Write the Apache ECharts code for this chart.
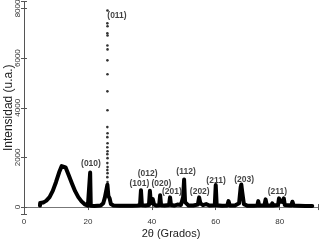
<!DOCTYPE html>
<html lang="es">
<head>
    <meta charset="UTF-8">
    <title>Difractograma</title>
    <script src="https://cdn.jsdelivr.net/npm/echarts@6.0.0/dist/echarts.min.js"></script>
    <style>
        html, body { margin: 0; padding: 0; background: #fff; }
        #chart { width: 321px; height: 242px; }
    </style>
</head>
<body>
<div id="chart"></div>
<script>
    // perfil de difraccion (2theta, intensidad)
    var twoTheta = [5.0, 5.05, 6.0, 7.0, 8.0, 9.0, 10.0, 11.0, 11.8, 12.3, 13.0, 14.0, 15.0, 16.0, 17.0, 18.0, 19.0, 20.0,
        20.5, 20.7, 20.9, 22.0, 23.0, 24.0, 24.8, 25.3, 25.7, 26.1, 26.4, 26.8, 27.2, 28.0, 30.0, 32.0, 34.0,
        35.5, 36.3, 36.6, 36.9, 38.0, 39.1, 39.4, 39.7, 40.3, 40.7, 41.5, 42.3, 42.6, 42.9, 44.0, 45.4, 45.7, 46.0,
        47.0, 48.0, 49.1, 49.8, 50.1, 50.4, 51.5, 53.0, 54.4, 54.8, 55.2, 56.0, 57.0, 58.0, 59.7, 60.0, 60.3,
        62.0, 63.6, 64.0, 64.4, 66.0, 67.3, 67.8, 68.0, 68.3, 68.8, 70.0, 72.0, 73.0, 73.3, 73.6, 75.2, 75.6, 76.0,
        77.4, 77.7, 78.0, 79.5, 79.8, 80.3, 81.0, 81.3, 81.6, 83.6, 84.0, 84.4, 86.0, 88.0, 90.2];
    var intensity = [60, 160, 180, 260, 400, 650, 1000, 1400, 1650, 1720, 1600, 1280, 950, 640, 400, 230, 110, 60,
        50, 1390, 50, 40, 50, 60, 150, 380, 420, 900, 450, 350, 120, 60, 50, 50, 50,
        60, 70, 680, 70, 60, 80, 655, 150, 320, 100, 60, 70, 480, 70, 60, 80, 390, 80,
        60, 100, 80, 400, 1110, 200, 60, 60, 100, 390, 150, 80, 120, 60, 70, 885, 70,
        50, 60, 240, 60, 60, 150, 800, 910, 600, 120, 50, 50, 60, 240, 60, 60, 310, 60,
        60, 150, 60, 80, 350, 220, 200, 350, 80, 60, 215, 60, 50, 40, 40];

    // puntos sueltos del pico (011)
    var peakX = [26.12, 26.08, 26.14, 26.08, 26.14, 26.1, 26.14, 26.1, 26.12, 26.1, 26.12, 26.08, 26.14, 26.08,
        26.14, 26.08, 26.14, 26.08, 26.14, 26.08, 26.14, 26.08, 26.14, 26.08, 26.14, 26.08, 26.14, 26.1];
    var peakY = [7920, 7400, 7280, 7000, 6910, 6510, 6350, 5910, 5350, 4660, 3900, 3220, 2975, 2815,
        2570, 2410, 2250, 2130, 1970, 1770, 1610, 1490, 1365, 1205, 1005, 885, 760, 600];

    // indices de Miller
    var hklText = ['(010)', '(011)', '(012)', '(101)', '(020)', '(201)', '(112)', '(202)', '(211)', '(203)', '(211)'];
    var hklX = [20.96, 29.1, 38.7, 36.1, 43.0, 46.3, 50.7, 55.0, 60.1, 68.9, 79.3];
    var hklY = [1730, 7720, 1355, 950, 950, 615, 1420, 615, 1045, 1115, 615];

    var xTicks = [0, 20, 40, 60, 80];
    var yTicks = [0, 2000, 4000, 6000, 8000];

    var chart = echarts.init(document.getElementById('chart'));

    var axisColor = '#555';
    var tickFont = { color: '#333', fontSize: 8, fontFamily: 'Liberation Sans, Arial, sans-serif' };

    var option = {
        animation: false,
        backgroundColor: '#fff',
        grid: { left: 24, right: 3, top: 1.5, bottom: 28, containLabel: false, outerBoundsMode: 'none' },
        xAxis: [{
            type: 'value', min: 0, max: 92, interval: 20,
            name: '2\u03b8 (Grados)', nameLocation: 'middle', nameGap: 14, nameMoveOverlap: false,
            nameTextStyle: { color: '#222', fontSize: 11, fontFamily: 'Liberation Sans, Arial, sans-serif' },
            axisLine: { show: true, lineStyle: { color: axisColor, width: 1 } },
            axisTick: { show: true, inside: true, length: 3, lineStyle: { color: axisColor } },
            axisLabel: Object.assign({
                margin: 4,
                formatter: function (v) { return xTicks.indexOf(v) >= 0 ? String(v) : ''; }
            }, tickFont),
            splitLine: { show: false }
        }, {
            type: 'value', position: 'top', min: 0, max: 92, interval: 20,
            axisLine: { show: true, lineStyle: { color: '#777', width: 1 } },
            axisTick: { show: true, inside: true, length: 3, lineStyle: { color: axisColor } },
            axisLabel: { show: false },
            splitLine: { show: false }
        }],
        yAxis: [{
            type: 'value', min: -280, max: 8280, splitNumber: 4,
            name: 'Intensidad (u.a.)', nameLocation: 'middle', nameGap: 9, nameRotate: 90, nameMoveOverlap: false,
            nameTextStyle: { color: '#222', fontSize: 12, fontFamily: 'Liberation Sans, Arial, sans-serif' },
            axisLine: { show: true, lineStyle: { color: axisColor, width: 1 } },
            axisTick: { show: true, inside: true, length: 3, lineStyle: { color: axisColor } },
            axisLabel: Object.assign({
                rotate: 90, margin: 2,
                formatter: function (v) { return yTicks.indexOf(v) >= 0 ? String(v) : ''; }
            }, tickFont),
            splitLine: { show: false }
        }, {
            type: 'value', position: 'right', min: -280, max: 8280, splitNumber: 4,
            axisLine: { show: true, lineStyle: { color: axisColor, width: 1 } },
            axisTick: { show: true, inside: true, length: 3, lineStyle: { color: axisColor } },
            axisLabel: { show: false },
            splitLine: { show: false }
        }],
        series: [{
            type: 'line',
            data: twoTheta.map(function (t, i) { return [t, intensity[i]]; }),
            showSymbol: false,
            lineStyle: { color: '#000', width: 4, join: 'round', cap: 'round' },
            z: 3
        }, {
            type: 'scatter',
            data: peakX.map(function (t, i) { return [t, peakY[i]]; }),
            symbol: 'circle', symbolSize: 2.6,
            itemStyle: { color: '#000' },
            z: 4
        }, {
            type: 'scatter',
            data: hklX.map(function (t, i) { return { value: [t, hklY[i]], name: hklText[i] }; }),
            symbolSize: 0,
            silent: true,
            label: {
                show: true, position: 'inside',
                formatter: function (p) { return p.name; },
                color: '#111', fontSize: 8.5, fontWeight: 'bold',
                fontFamily: 'Liberation Sans, Arial, sans-serif'
            },
            z: 5
        }]
    };
    chart.setOption(option);
</script>
</body>
</html>
